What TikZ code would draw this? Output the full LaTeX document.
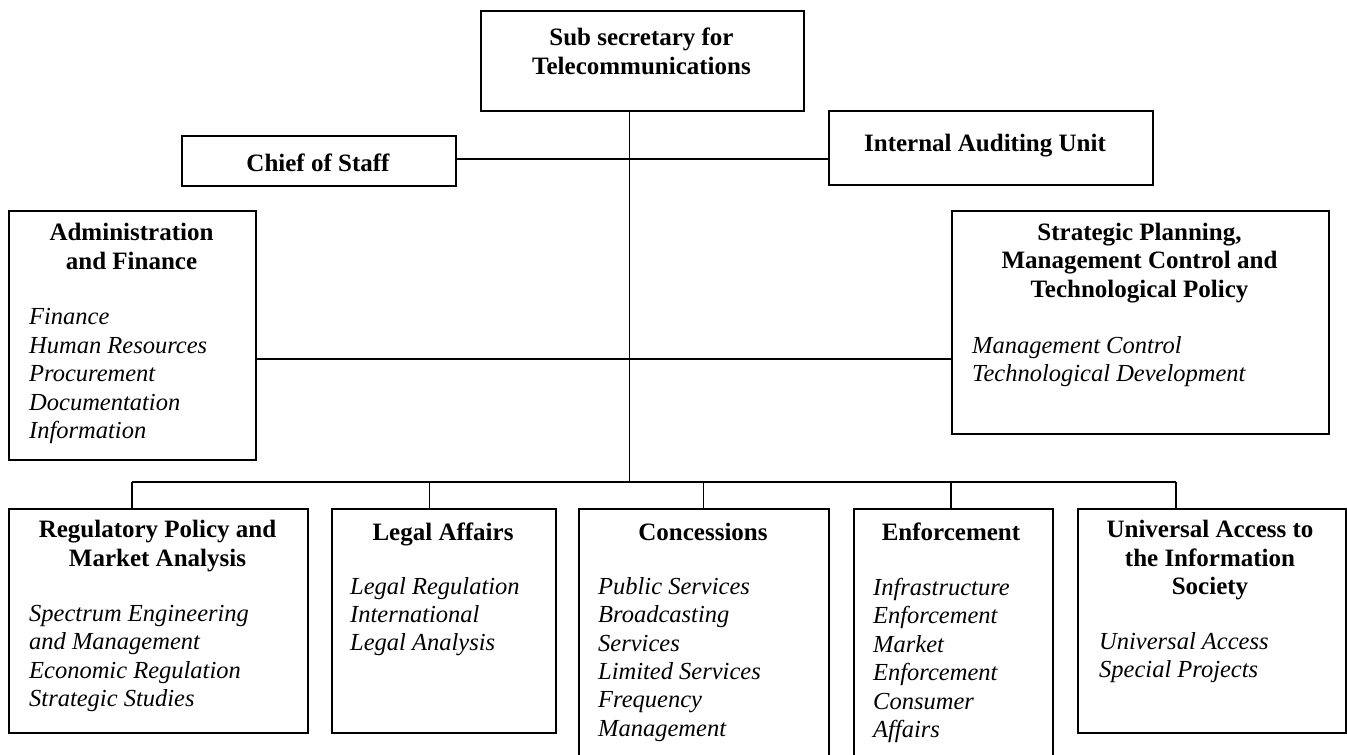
\documentclass[tikz,border=0pt]{standalone}
\usepackage{fontspec}
\setmainfont{Liberation Serif}
\newcommand\orgtitlefont{\fontsize{25}{28.4}\selectfont\bfseries}
\newcommand\orgitemfont{\fontsize{24.5}{28.4}\selectfont\itshape}
\begin{document}
\begin{tikzpicture}[x=1pt,y=-1pt,
  unit/.style={draw, line width=1.8pt, inner sep=0pt, anchor=north west},
  link/.style={draw, line width=1.4pt},
  title/.style={font=\orgtitlefont, align=center, anchor=north, inner sep=0pt,
                execute at begin node=\strut},
  items/.style={font=\orgitemfont, align=left, anchor=north west, inner sep=0pt,
                execute at begin node=\strut}]
\useasboundingbox (0,0) rectangle (1347,755);
\clip (0,0) rectangle (1347,755);

% boxes
\node[unit, minimum width=323pt, minimum height=100pt] (top)   at (480,10)  {};
\node[unit, minimum width=274pt, minimum height=50pt]  (chief) at (181,135) {};
\node[unit, minimum width=324pt, minimum height=74pt]  (audit) at (828,110) {};
\node[unit, minimum width=247pt, minimum height=249pt] (admin) at (8,210)   {};
\node[unit, minimum width=377pt, minimum height=223pt] (strat) at (951,210) {};
\node[unit, minimum width=299pt, minimum height=224pt] (reg)   at (8,508)   {};
\node[unit, minimum width=224pt, minimum height=224pt] (legal) at (331,508) {};
\node[unit, minimum width=250pt, minimum height=262pt] (conc)  at (578,508) {};
\node[unit, minimum width=199pt, minimum height=262pt] (enf)   at (853,508) {};
\node[unit, minimum width=268pt, minimum height=224pt] (univ)  at (1077,508) {};

% box headings
\node[title] (topT)   at (641.5,28.1)  {Sub secretary for\\Telecommunications};
\node[title] (chiefT) at (318,151.8)   {Chief of Staff};
\node[title] (auditT) at (985,131.8)   {Internal Auditing Unit};
\node[title] (adminT) at (131.5,223.4) {Administration\\and Finance};
\node[title] (stratT) at (1139.5,222.8){Strategic Planning,\\Management Control and\\Technological Policy};
\node[title] (regT)   at (157.5,520.1) {Regulatory Policy and\\Market Analysis};
\node[title] (legalT) at (443,520.1)   {Legal Affairs};
\node[title] (concT)  at (703,520.1)   {Concessions};
\node[title] (enfT)   at (951,520.1)   {Enforcement};
\node[title] (univT)  at (1210,520.1)  {Universal Access to\\the Information\\Society};

% units within each office
\node[items] (adminI) at (29,308.4)  {Finance\\Human Resources\\Procurement\\Documentation\\Information};
\node[items] (stratI) at (972,336.1) {Management Control\\Technological Development};
\node[items] (regI)   at (29,605.1)  {Spectrum Engineering\\and Management\\Economic Regulation\\Strategic Studies};
\node[items] (legalI) at (350,576.8) {Legal Regulation\\International\\Legal Analysis};
\node[items] (concI)  at (598,577.1) {Public Services\\Broadcasting\\Services\\Limited Services\\Frequency\\Management};
\node[items] (enfI)   at (873,578.1) {Infrastructure\\Enforcement\\Market\\Enforcement\\Consumer\\Affairs};
\node[items] (univI)  at (1099,631.8){Universal Access\\Special Projects};

% connectors
\coordinate (trunk) at (629.5,482);
\coordinate (staffline) at (629.5,159);
\coordinate (midline) at (629.5,359);
\coordinate (busL) at (132,482);
\coordinate (busR) at (1176,482);
\coordinate (brLegal) at (429.5,482);
\coordinate (brConc) at (703.6,482);
\coordinate (brEnf) at (951,482);

\draw[link] (top.south -| trunk) -- (trunk);
\draw[link] (staffline -| chief.east) -- (staffline -| audit.west);
\draw[link] (midline -| admin.east) -- (midline -| strat.west);
\draw[link] (busL) -- (busR);
\draw[link] (busL) -- (busL |- reg.north);
\draw[link] (brLegal) -- (brLegal |- legal.north);
\draw[link] (brConc) -- (brConc |- conc.north);
\draw[link] (brEnf) -- (brEnf |- enf.north);
\draw[link] (busR) -- (busR |- univ.north);
\end{tikzpicture}
\end{document}
